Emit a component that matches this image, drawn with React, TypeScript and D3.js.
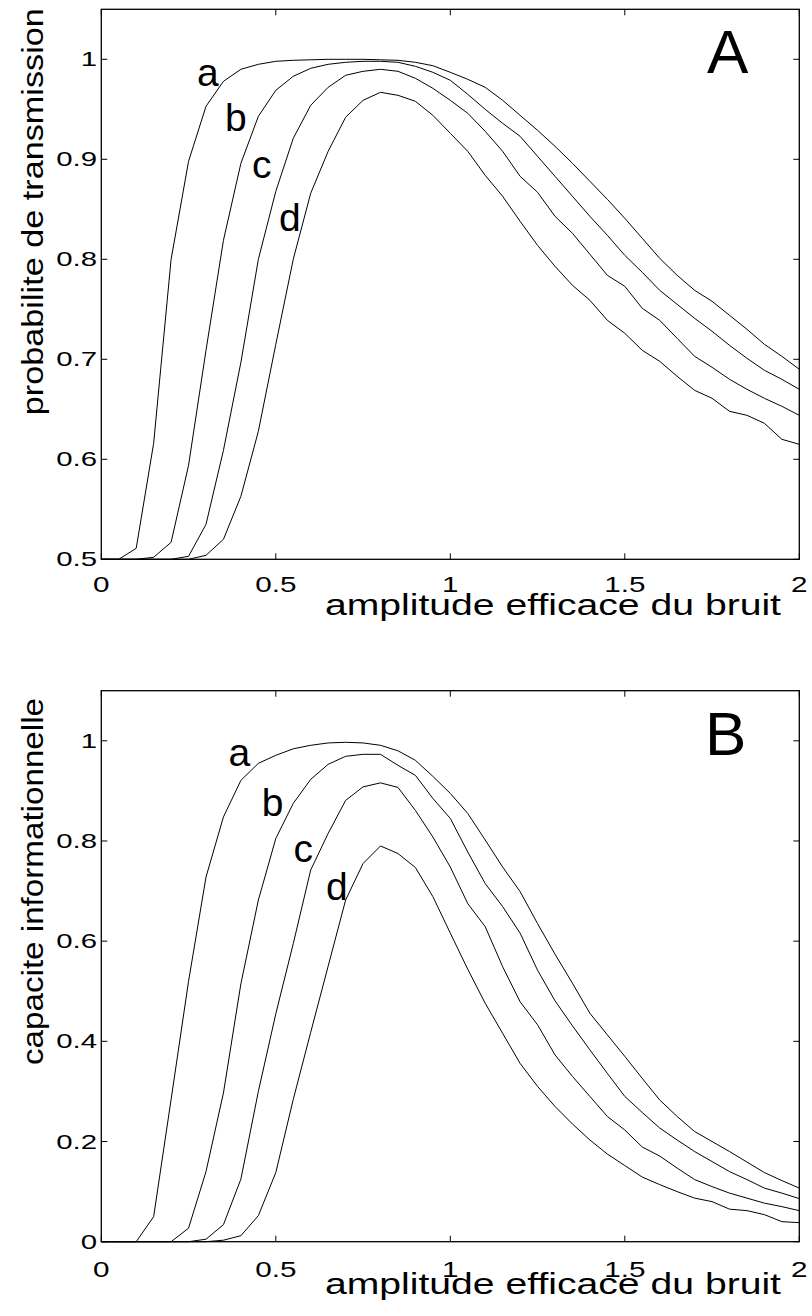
import React from "react";
import * as d3 from "d3";

// noise amplitude grid
const X = [0, 0.05, 0.1, 0.15, 0.2, 0.25, 0.3, 0.35, 0.4, 0.45, 0.5, 0.55, 0.6, 0.65, 0.7, 0.75, 0.8, 0.85, 0.9, 0.95,
  1.0, 1.05, 1.1, 1.15, 1.2, 1.25, 1.3, 1.35, 1.4, 1.45, 1.5, 1.55, 1.6, 1.65, 1.7, 1.75, 1.8, 1.85, 1.9, 1.95, 2.0];

// Panel A: probabilite de transmission
const A_a = [0.5, 0.5, 0.511, 0.616, 0.80, 0.898, 0.953, 0.978, 0.990, 0.995, 0.998, 0.999, 0.9995, 1.0, 1.0, 1.0, 0.9995, 0.999, 0.997, 0.9936,
  0.987, 0.980, 0.972, 0.959, 0.944, 0.929, 0.913, 0.896, 0.878, 0.860, 0.841, 0.821, 0.801, 0.784, 0.769, 0.758, 0.744, 0.730, 0.715, 0.703, 0.690];
const A_b = [0.5, 0.5, 0.5, 0.502, 0.517, 0.594, 0.709, 0.819, 0.896, 0.943, 0.969, 0.983, 0.991, 0.995, 0.997, 0.998, 0.998, 0.997, 0.993, 0.987,
  0.979, 0.965, 0.950, 0.936, 0.923, 0.903, 0.883, 0.863, 0.843, 0.824, 0.804, 0.787, 0.769, 0.755, 0.741, 0.728, 0.714, 0.701, 0.689, 0.680, 0.670];
const A_c = [0.5, 0.5, 0.5, 0.5, 0.5, 0.503, 0.535, 0.609, 0.697, 0.800, 0.868, 0.921, 0.954, 0.972, 0.984, 0.988, 0.990, 0.988, 0.981, 0.971,
  0.959, 0.946, 0.928, 0.908, 0.883, 0.867, 0.843, 0.826, 0.805, 0.784, 0.773, 0.751, 0.739, 0.721, 0.703, 0.692, 0.680, 0.670, 0.661, 0.653, 0.644];
const A_d = [0.5, 0.5, 0.5, 0.5, 0.5, 0.5, 0.504, 0.520, 0.563, 0.628, 0.715, 0.800, 0.866, 0.908, 0.942, 0.959, 0.967, 0.964, 0.958, 0.944,
  0.926, 0.908, 0.884, 0.863, 0.838, 0.814, 0.793, 0.774, 0.759, 0.739, 0.726, 0.709, 0.698, 0.683, 0.669, 0.661, 0.648, 0.644, 0.636, 0.620, 0.615];

// Panel B: capacite informationnelle
const B_a = [0, 0, 0, 0.050, 0.284, 0.52, 0.728, 0.848, 0.921, 0.955, 0.971, 0.984, 0.991, 0.9957, 0.997, 0.9957, 0.991, 0.980, 0.961, 0.929,
  0.895, 0.855, 0.802, 0.748, 0.699, 0.635, 0.574, 0.516, 0.456, 0.413, 0.370, 0.326, 0.283, 0.250, 0.220, 0.200, 0.180, 0.159, 0.138, 0.122, 0.107];
const B_b = [0, 0, 0, 0, 0, 0.027, 0.140, 0.297, 0.515, 0.682, 0.805, 0.875, 0.923, 0.953, 0.969, 0.973, 0.973, 0.951, 0.931, 0.885,
  0.845, 0.778, 0.715, 0.669, 0.616, 0.542, 0.481, 0.431, 0.383, 0.336, 0.290, 0.258, 0.227, 0.203, 0.180, 0.160, 0.140, 0.124, 0.107, 0.097, 0.086];
const B_c = [0, 0, 0, 0, 0, 0, 0.005, 0.034, 0.125, 0.300, 0.455, 0.595, 0.742, 0.815, 0.881, 0.908, 0.916, 0.907, 0.861, 0.808,
  0.748, 0.675, 0.629, 0.549, 0.479, 0.433, 0.373, 0.330, 0.290, 0.250, 0.223, 0.189, 0.171, 0.147, 0.124, 0.110, 0.097, 0.087, 0.077, 0.070, 0.062];
const B_d = [0, 0, 0, 0, 0, 0, 0, 0.003, 0.012, 0.052, 0.138, 0.284, 0.418, 0.550, 0.682, 0.755, 0.790, 0.775, 0.747, 0.689,
  0.616, 0.544, 0.476, 0.416, 0.356, 0.310, 0.270, 0.235, 0.203, 0.175, 0.152, 0.129, 0.114, 0.100, 0.087, 0.080, 0.065, 0.062, 0.054, 0.040, 0.038];

const X_TICKS = [0, 0.5, 1, 1.5, 2];
const X_TICK_LABELS = ["0", "0.5", "1", "1.5", "2"];
const A_Y_TICKS = [0.5, 0.6, 0.7, 0.8, 0.9, 1];
const A_Y_TICK_LABELS = ["0.5", "0.6", "0.7", "0.8", "0.9", "1"];
const B_Y_TICKS = [0, 0.2, 0.4, 0.6, 0.8, 1];
const B_Y_TICK_LABELS = ["0", "0.2", "0.4", "0.6", "0.8", "1"];
const CURVE_NAMES = ["a", "b", "c", "d"];

const FONT = "'Liberation Sans', Arial, Helvetica, sans-serif";

type PanelProps = {
  series: number[][];
  yDomain: [number, number];
  top: number;
  bottom: number;
  yTicks: number[];
  yTickLabels: string[];
  yLabel: string;
  yLabelCenter: number;
  yLabelLength: number;
  xTickBaseline: number;
  xLabelBaseline: number;
  letter: string;
  letterPos: [number, number];
  curveLabelPos: [number, number][];
};

function Panel(p: PanelProps) {
  const left = 101.3;
  const right = 799.3;
  const x = d3.scaleLinear().domain([0, 2]).range([left, right]);
  const y = d3.scaleLinear().domain(p.yDomain).range([p.bottom, p.top]);
  const line = d3.line<number>().x((_, i) => x(X[i])).y((v) => y(v));
  const tl = 6;
  return (
    <g>
      {p.series.map((s, i) => (
        <path key={i} d={line(s) || ""} fill="none" stroke="#000" strokeWidth={1} />
      ))}
      <rect x={left} y={p.top} width={right - left} height={p.bottom - p.top} fill="none" stroke="#000" strokeWidth={1.3} />
      {X_TICKS.map((t, i) => (
        <g key={"xt" + i}>
          <line x1={x(t)} x2={x(t)} y1={p.bottom} y2={p.bottom - tl} stroke="#000" strokeWidth={1} />
          <line x1={x(t)} x2={x(t)} y1={p.top} y2={p.top + tl} stroke="#000" strokeWidth={1} />
          <text transform={`translate(${x(t)},${p.xTickBaseline}) scale(1.38,1)`} textAnchor="middle" fontSize={21.5} fontFamily={FONT}>
            {X_TICK_LABELS[i]}
          </text>
        </g>
      ))}
      {p.yTicks.map((t, i) => (
        <g key={"yt" + i}>
          <line x1={left} x2={left + tl} y1={y(t)} y2={y(t)} stroke="#000" strokeWidth={1} />
          <line x1={right} x2={right - tl} y1={y(t)} y2={y(t)} stroke="#000" strokeWidth={1} />
          <text transform={`translate(97,${y(t) + 7}) scale(1.4,1)`} textAnchor="end" fontSize={21} fontFamily={FONT}>
            {p.yTickLabels[i]}
          </text>
        </g>
      ))}
      <text x={325} y={p.xLabelBaseline} fontSize={30} fontFamily={FONT} textLength={456} lengthAdjust="spacingAndGlyphs">
        amplitude efficace du bruit
      </text>
      <text
        transform={`translate(43,${p.yLabelCenter}) rotate(-90)`}
        textAnchor="middle"
        fontSize={30}
        fontFamily={FONT}
        textLength={p.yLabelLength}
        lengthAdjust="spacingAndGlyphs"
      >
        {p.yLabel}
      </text>
      <text x={p.letterPos[0]} y={p.letterPos[1]} fontSize={62} fontFamily={FONT}>
        {p.letter}
      </text>
      {CURVE_NAMES.map((n, i) => (
        <text key={n} x={p.curveLabelPos[i][0]} y={p.curveLabelPos[i][1]} fontSize={39} fontFamily={FONT}>
          {n}
        </text>
      ))}
    </g>
  );
}

export default function App() {
  return (
    <svg
      width={812}
      height={1316}
      style={{ position: "absolute", left: 0, top: 0, background: "#fff" }}
    >
      <rect x={0} y={0} width={812} height={1316} fill="#fff" />
      <Panel
        series={[A_a, A_b, A_c, A_d]}
        yDomain={[0.5, 1.05]}
        top={9.3}
        bottom={559.3}
        yTicks={A_Y_TICKS}
        yTickLabels={A_Y_TICK_LABELS}
        yLabel="probabilite de transmission"
        yLabelCenter={211.7}
        yLabelLength={407}
        xTickBaseline={592.3}
        xLabelBaseline={615}
        letter="A"
        letterPos={[707, 73]}
        curveLabelPos={[[197, 86], [225, 131], [252, 178], [279, 231]]}
      />
      <Panel
        series={[B_a, B_b, B_c, B_d]}
        yDomain={[0, 1.1]}
        top={690.7}
        bottom={1241.7}
        yTicks={B_Y_TICKS}
        yTickLabels={B_Y_TICK_LABELS}
        yLabel="capacite informationnelle"
        yLabelCenter={881.5}
        yLabelLength={367}
        xTickBaseline={1276.5}
        xLabelBaseline={1294}
        letter="B"
        letterPos={[705, 755]}
        curveLabelPos={[[228.6, 765.5], [261.7, 816], [293.5, 862], [326, 899.5]]}
      />
    </svg>
  );
}
